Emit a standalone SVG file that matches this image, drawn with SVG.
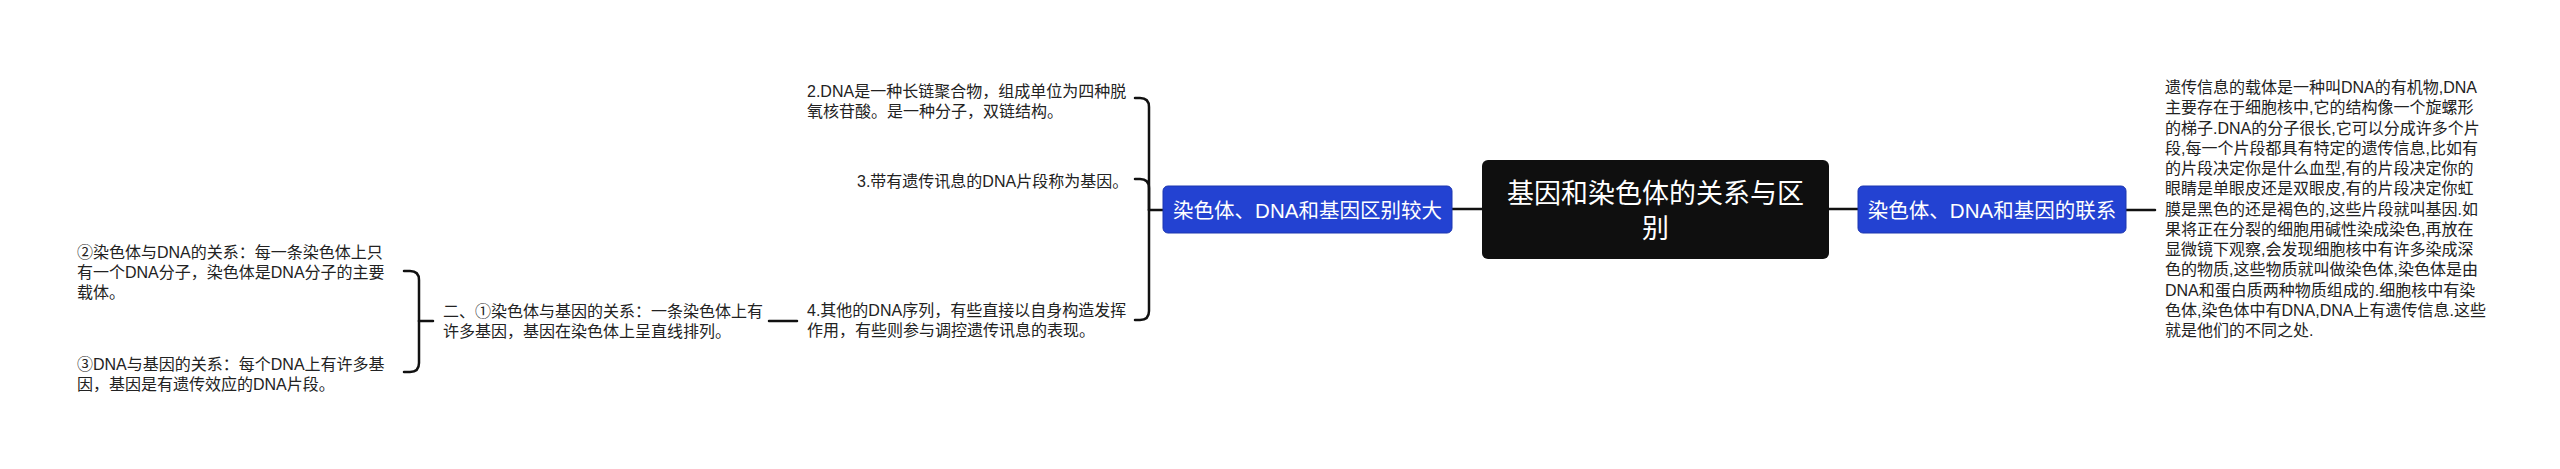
<svg xmlns="http://www.w3.org/2000/svg" width="2560" height="469" viewBox="0 0 2560 469">
<style>
.bg{fill:#ffffff}
.conn{fill:none;stroke:#111111;stroke-width:2.5;stroke-linecap:round;stroke-linejoin:round}
.root{fill:#0f0f0f}
.main{fill:#2342d2;stroke:#1d36b0;stroke-width:1}
.t{font-family:"Liberation Sans","Noto Sans CJK SC",sans-serif;fill:#222222;font-size:16px}
.tw{font-family:"Liberation Sans","Noto Sans CJK SC",sans-serif;fill:#ffffff}
.rt{font-size:27px}
.mt{font-size:20.5px}
</style>
<rect class="bg" x="0" y="0" width="2560" height="469"/>
<g id="connectors">
<path class="conn" d="M1482,209 H1452"/>
<path class="conn" d="M1829,209 H1858"/>
<path class="conn" d="M2126,210 H2155"/>
<path class="conn" d="M1163,210 H1149"/>
<path class="conn" d="M1149,210 V107 Q1149,98 1140,98 H1135"/>
<path class="conn" d="M1149,210 V188 Q1149,179 1140,179 H1135"/>
<path class="conn" d="M1149,210 V311 Q1149,320 1140,320 H1135"/>
<path class="conn" d="M797,321 H769"/>
<path class="conn" d="M433,321 H419"/>
<path class="conn" d="M419,321 V280 Q419,271 410,271 H404"/>
<path class="conn" d="M419,321 V363 Q419,372 410,372 H404"/>
</g>
<g id="root">
<rect class="root" x="1482" y="160" width="347" height="99" rx="6"/>
<text class="tw rt" x="1655.5" y="203" text-anchor="middle">基因和染色体的关系与区</text>
<text class="tw rt" x="1655.5" y="238" text-anchor="middle">别</text>
</g>
<g id="node-right">
<rect class="main" x="1858" y="186" width="268" height="47" rx="5"/>
<text class="tw mt" x="1992" y="217.5" text-anchor="middle">染色体、DNA和基因的联系</text>
</g>
<g id="node-right-text">
<text class="t" x="2165" y="93">遗传信息的载体是一种叫DNA的有机物,DNA</text>
<text class="t" x="2165" y="113.25">主要存在于细胞核中,它的结构像一个旋螺形</text>
<text class="t" x="2165" y="133.5">的梯子.DNA的分子很长,它可以分成许多个片</text>
<text class="t" x="2165" y="153.75">段,每一个片段都具有特定的遗传信息,比如有</text>
<text class="t" x="2165" y="174">的片段决定你是什么血型,有的片段决定你的</text>
<text class="t" x="2165" y="194.25">眼睛是单眼皮还是双眼皮,有的片段决定你虹</text>
<text class="t" x="2165" y="214.5">膜是黑色的还是褐色的,这些片段就叫基因.如</text>
<text class="t" x="2165" y="234.75">果将正在分裂的细胞用碱性染成染色,再放在</text>
<text class="t" x="2165" y="255">显微镜下观察,会发现细胞核中有许多染成深</text>
<text class="t" x="2165" y="275.25">色的物质,这些物质就叫做染色体,染色体是由</text>
<text class="t" x="2165" y="295.5">DNA和蛋白质两种物质组成的.细胞核中有染</text>
<text class="t" x="2165" y="315.75">色体,染色体中有DNA,DNA上有遗传信息.这些</text>
<text class="t" x="2165" y="336">就是他们的不同之处.</text>
</g>
<g id="node-left">
<rect class="main" x="1163" y="186" width="289" height="47" rx="5"/>
<text class="tw mt" x="1307.5" y="217.5" text-anchor="middle">染色体、DNA和基因区别较大</text>
</g>
<g id="node-2">
<text class="t" x="807" y="97">2.DNA是一种长链聚合物，组成单位为四种脱</text>
<text class="t" x="807" y="117">氧核苷酸。是一种分子，双链结构。</text>
</g>
<g id="node-3">
<text class="t" x="857" y="187">3.带有遗传讯息的DNA片段称为基因。</text>
</g>
<g id="node-4">
<text class="t" x="807" y="316">4.其他的DNA序列，有些直接以自身构造发挥</text>
<text class="t" x="807" y="336">作用，有些则参与调控遗传讯息的表现。</text>
</g>
<g id="node-er">
<text class="t" x="443" y="317">二、①染色体与基因的关系：一条染色体上有</text>
<text class="t" x="443" y="337">许多基因，基因在染色体上呈直线排列。</text>
</g>
<g id="node-circ2">
<text class="t" x="77" y="258">②染色体与DNA的关系：每一条染色体上只</text>
<text class="t" x="77" y="278">有一个DNA分子，染色体是DNA分子的主要</text>
<text class="t" x="77" y="298">载体。</text>
</g>
<g id="node-circ3">
<text class="t" x="77" y="370">③DNA与基因的关系：每个DNA上有许多基</text>
<text class="t" x="77" y="390">因，基因是有遗传效应的DNA片段。</text>
</g>
</svg>
